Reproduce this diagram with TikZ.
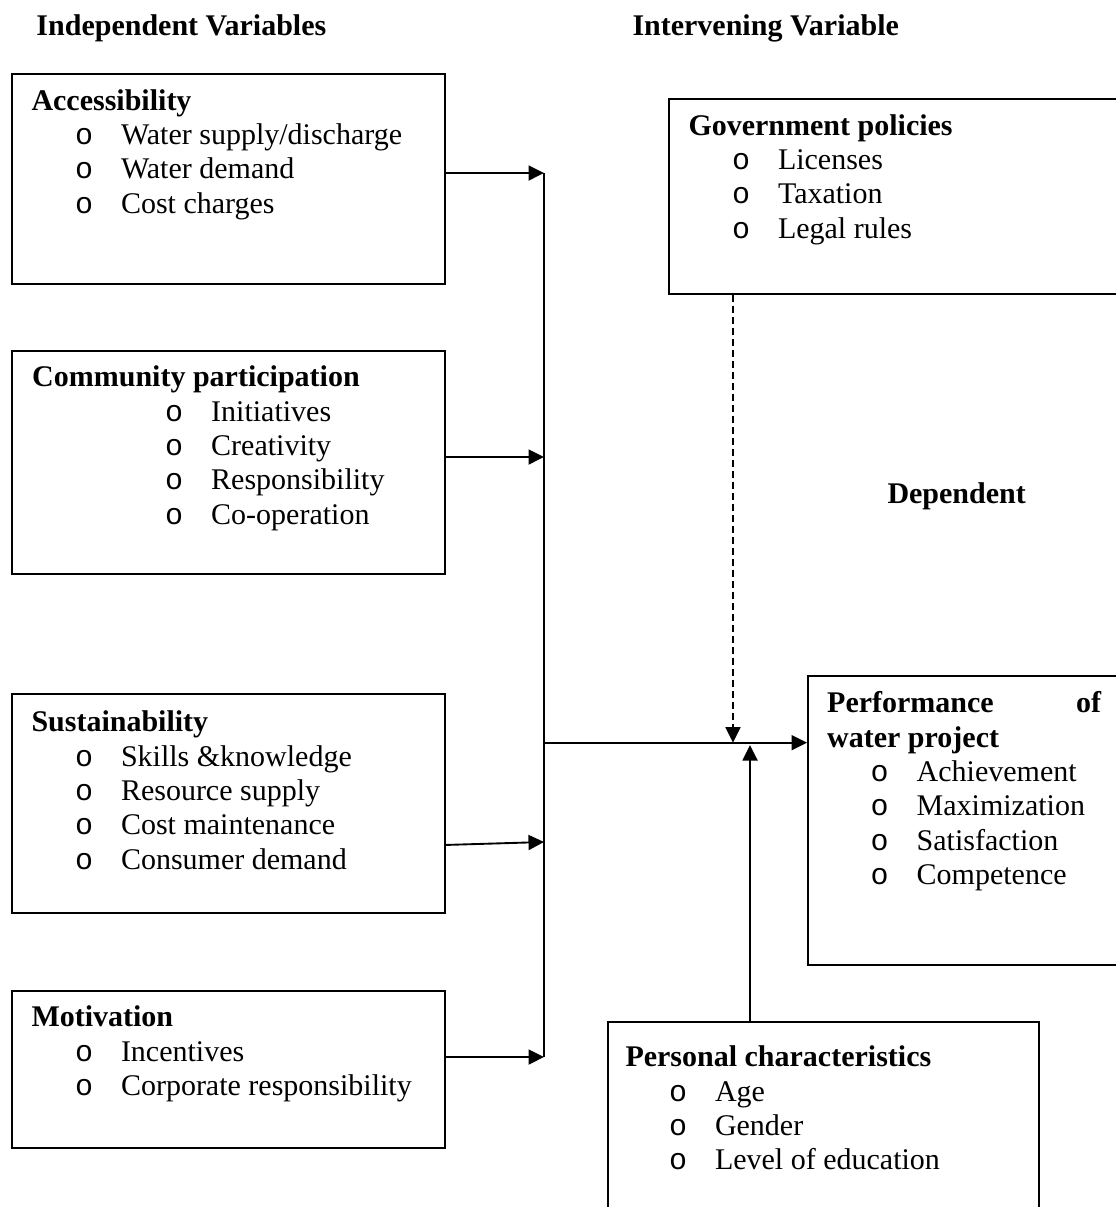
\documentclass[tikz,border=0pt]{standalone}
\usepackage{fontspec}
\setmainfont{Liberation Serif}
\setmonofont{Liberation Mono}
\usetikzlibrary{arrows.meta}
\tikzstyle{varbox} = [rectangle, draw=black, line width=0.75pt, anchor=north west, inner sep=0pt]
\tikzstyle{boxtext} = [anchor=base west, inner sep=0pt, font=\fontsize{12pt}{13.75pt}\selectfont]
\tikzstyle{heading} = [anchor=base west, inner sep=0pt, font=\fontsize{12pt}{13.75pt}\selectfont\bfseries]
\tikzstyle{arrow} = [line width=0.75pt, -{Triangle[length=6.2pt,width=6pt]}]
\tikzstyle{dasharrow} = [line width=0.5pt, dash pattern=on 2.8pt off 1.6pt, -{Triangle[length=6.2pt,width=6pt]}]
\newcommand{\itm}[2][17.4pt]{\hspace*{#1}\makebox[18.4pt][l]{\ttfamily o}#2}

\begin{document}
\begin{tikzpicture}[x=0.4pt, y=-0.4pt]
      \useasboundingbox (0,0) rectangle (1115,1207);

      % column headings
      \node (indep) [heading] at (36,35) {Independent Variables};
      \node (interv) [heading] at (632,35) {Intervening Variable};
      \node (dep) [heading] at (887,503) {Dependent};

      % boxes
      \node (acc) [varbox, minimum width=173.2pt, minimum height=84pt] at (11,73) {};
      \node (com) [varbox, minimum width=173.2pt, minimum height=89.2pt] at (11,350) {};
      \node (sus) [varbox, minimum width=173.2pt, minimum height=87.6pt] at (11,693) {};
      \node (mot) [varbox, minimum width=173.2pt, minimum height=62.8pt] at (11,990) {};
      \node (gov) [varbox, minimum width=184.8pt, minimum height=78pt] at (668,98) {};
      \node (perf) [varbox, minimum width=129.2pt, minimum height=115.6pt] at (807,675) {};
      \node (pers) [varbox, minimum width=172.4pt, minimum height=79.6pt] at (607,1021) {};

      % box texts
      \node (acctext) [boxtext] at (31,110) {\begin{tabular}[t]{@{}l@{}}\textbf{Accessibility}\\ \itm{Water supply/discharge}\\ \itm{Water demand}\\ \itm{Cost charges}\end{tabular}};
      \node (comtext) [boxtext] at (31.7,386.7) {\begin{tabular}[t]{@{}l@{}}\textbf{Community participation}\\ \itm[53.2pt]{Initiatives}\\ \itm[53.2pt]{Creativity}\\ \itm[53.2pt]{Responsibility}\\ \itm[53.2pt]{Co-operation}\end{tabular}};
      \node (sustext) [boxtext] at (31,731.7) {\begin{tabular}[t]{@{}l@{}}\textbf{Sustainability}\\ \itm{Skills \&knowledge}\\ \itm{Resource supply}\\ \itm{Cost maintenance}\\ \itm{Consumer demand}\end{tabular}};
      \node (mottext) [boxtext] at (31,1026.7) {\begin{tabular}[t]{@{}l@{}}\textbf{Motivation}\\ \itm{Incentives}\\ \itm{Corporate responsibility}\end{tabular}};
      \node (govtext) [boxtext] at (688,135) {\begin{tabular}[t]{@{}l@{}}\textbf{Government policies}\\ \itm{Licenses}\\ \itm{Taxation}\\ \itm{Legal rules}\end{tabular}};
      \node (perftext) [boxtext] at (826.7,712.7) {\begin{tabular}[t]{@{}l@{}}\textbf{\makebox[109.6pt][s]{Performance\hfill of}}\\ \textbf{water project}\\ \itm{Achievement}\\ \itm{Maximization}\\ \itm{Satisfaction}\\ \itm{Competence}\end{tabular}};
      \node (perstext) [boxtext] at (625,1066.7) {\begin{tabular}[t]{@{}l@{}}\textbf{Personal characteristics}\\ \itm{Age}\\ \itm{Gender}\\ \itm{Level of education}\end{tabular}};

      % joining points
      \coordinate (s1) at (544,173);
      \coordinate (s2) at (544,457);
      \coordinate (s3) at (544,842);
      \coordinate (s4) at (544,1057);
      \coordinate (hub) at (544,742.7);
      \coordinate (gd) at (733,742.7);
      \coordinate (pu) at (750,745);

      % Arrows
      \draw [arrow] (acc.east |- s1) -- (s1);
      \draw [arrow] (com.east |- s2) -- (s2);
      \draw [arrow] ([yshift=-16.6pt]sus.east) -- (s3);
      \draw [arrow] (mot.east |- s4) -- (s4);
      \draw [line width=0.75pt] (s1) -- (s4);
      \draw [arrow] (hub) -- (perf.west |- hub);
      \draw [dasharrow] (gov.south -| gd) -- (gd);
      \draw [arrow] (pers.north -| pu) -- (pu);

\end{tikzpicture}
\end{document}
